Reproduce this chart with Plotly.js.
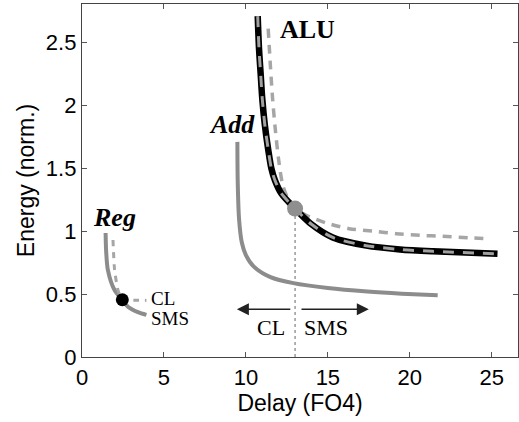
<!DOCTYPE html>
<html>
<head>
<meta charset="utf-8">
<script src="https://cdn.plot.ly/plotly-3.0.1.min.js"></script>
<style>
  html, body { margin: 0; padding: 0; background: #fff; }
  #chart { width: 519px; height: 422px; }
</style>
</head>
<body>
<div id="chart"></div>
<script>
// Energy vs. delay trade-off curves (normalized energy, delay in FO4)

// ALU: clock-limited (CL) curve
const aluClX = [10.72, 10.8, 10.9, 11.0, 11.15, 11.37, 11.55, 11.77, 12.16, 13.0, 14.0, 15.3, 17.35, 19.4, 21.4, 25.35];
const aluClY = [2.71, 2.45, 2.25, 2.05, 1.85, 1.64, 1.50, 1.405, 1.30, 1.18, 1.055, 0.95, 0.885, 0.855, 0.84, 0.82];

// ALU: SMS curve
const aluSmsX = [11.36, 11.5, 11.63, 11.8, 12.0, 12.25, 12.6, 13.0, 13.68, 14.9, 16.3, 17.75, 19.17, 20.6, 22.0, 23.85, 24.66];
const aluSmsY = [2.61, 2.3, 2.05, 1.8, 1.565, 1.365, 1.25, 1.18, 1.127, 1.065, 1.02, 1.0, 0.98, 0.967, 0.96, 0.946, 0.94];

// Adder curve
const addX = [9.48, 9.5, 9.58, 9.75, 10.0, 10.47, 11.5, 12.9, 15.0, 17.4, 19.5, 21.7];
const addY = [1.71, 1.4, 1.1, 0.91, 0.81, 0.72, 0.635, 0.587, 0.548, 0.52, 0.503, 0.49];

// Register file: solid curve and dashed curve
const regSolidX = [1.44, 1.47, 1.58, 1.99, 2.46, 2.8, 3.41, 3.93];
const regSolidY = [0.985, 0.85, 0.69, 0.53, 0.455, 0.40, 0.357, 0.335];
const regDashX = [1.89, 1.99, 2.2, 2.46, 3.2, 3.93];
const regDashY = [0.93, 0.69, 0.53, 0.455, 0.452, 0.45];

// Operating points
const regPoint = {x: [2.46], y: [0.455]};
const aluPoint = {x: [13.0], y: [1.18]};

// Boundary between CL and SMS regions for the ALU
const splitX = [13.0, 13.0];
const splitY = [0, 1.18];

// Axis ticks
const xTicks = [0, 5, 10, 15, 20, 25];
const yTicks = [0, 0.5, 1, 1.5, 2, 2.5];
const yTickText = ['0', '0.5', '1', '1.5', '2', '2.5'];

const grey = '#8c8c8c';
const lightGrey = '#a6a6a6';

const traces = [
  {x: splitX, y: splitY, mode: 'lines', line: {color: '#999', width: 1.5, dash: 'dot'}},
  {x: addX, y: addY, mode: 'lines', line: {color: grey, width: 4, shape: 'spline', smoothing: 0.8}},
  {x: regSolidX, y: regSolidY, mode: 'lines', line: {color: grey, width: 4, shape: 'spline', smoothing: 0.8}},
  {x: regDashX, y: regDashY, mode: 'lines', line: {color: lightGrey, width: 3, dash: '6px,6px', shape: 'spline', smoothing: 0.6}},
  {x: aluSmsX, y: aluSmsY, mode: 'lines', line: {color: lightGrey, width: 3.5, dash: '9px,7px', shape: 'spline', smoothing: 0.8}},
  {x: aluClX, y: aluClY, mode: 'lines', line: {color: '#000', width: 6.5, shape: 'spline', smoothing: 0.8}},
  {x: aluClX, y: aluClY, mode: 'lines', line: {color: '#a0a0a0', width: 3, dash: '11px,9px', shape: 'spline', smoothing: 0.8}},
  {x: aluPoint.x, y: aluPoint.y, mode: 'markers', marker: {color: '#8f8f8f', size: 16, line: {width: 0}}},
  {x: regPoint.x, y: regPoint.y, mode: 'markers', marker: {color: '#000', size: 13, line: {width: 0}}}
];

const serif = 'Liberation Serif, Times New Roman, serif';

const annotations = [
  {x: 2.01, y: 1.11, text: '<b><i>Reg</i></b>', showarrow: false, font: {family: serif, size: 26, color: '#000'}},
  {x: 9.17, y: 1.85, text: '<b><i>Add</i></b>', showarrow: false, font: {family: serif, size: 26, color: '#000'}},
  {x: 13.75, y: 2.60, text: '<b>ALU</b>', showarrow: false, font: {family: serif, size: 26, color: '#000'}},
  {x: 4.1, y: 0.466, text: 'CL', showarrow: false, xanchor: 'left', font: {family: serif, size: 19, color: '#000'}},
  {x: 4.1, y: 0.307, text: 'SMS', showarrow: false, xanchor: 'left', font: {family: serif, size: 19, color: '#000'}},
  {x: 11.5, y: 0.237, text: 'CL', showarrow: false, font: {family: serif, size: 22, color: '#000'}},
  {x: 14.86, y: 0.237, text: 'SMS', showarrow: false, font: {family: serif, size: 22, color: '#000'}},
  {x: 9.45, y: 0.38, ax: 12.8, ay: 0.38, xref: 'x', yref: 'y', axref: 'x', ayref: 'y',
   text: '', showarrow: true, arrowhead: 2, arrowsize: 1.6, arrowwidth: 1.5, arrowcolor: '#222'},
  {x: 17.5, y: 0.38, ax: 13.3, ay: 0.38, xref: 'x', yref: 'y', axref: 'x', ayref: 'y',
   text: '', showarrow: true, arrowhead: 2, arrowsize: 1.6, arrowwidth: 1.5, arrowcolor: '#222'}
];

const sans = 'Liberation Sans, Arial, Helvetica, sans-serif';

const layout = {
  width: 519,
  height: 422,
  margin: {l: 82, r: 1, t: 4, b: 65},
  paper_bgcolor: '#fff',
  plot_bgcolor: '#fff',
  showlegend: false,
  font: {family: sans, size: 22, color: '#000'},
  xaxis: {
    range: [0, 26.6],
    tickvals: xTicks,
    ticks: 'inside', ticklen: 5, tickcolor: '#555', mirror: 'ticks',
    showline: true, linecolor: '#444', linewidth: 1.2,
    showgrid: false, zeroline: false,
    tickfont: {family: sans, size: 22},
    title: {text: 'Delay (FO4)', font: {family: sans, size: 23}, standoff: 2}
  },
  yaxis: {
    range: [0, 2.806],
    tickvals: yTicks, ticktext: yTickText,
    ticks: 'inside', ticklen: 5, tickcolor: '#555', mirror: 'ticks',
    showline: true, linecolor: '#444', linewidth: 1.2,
    showgrid: false, zeroline: false,
    tickfont: {family: sans, size: 22},
    title: {text: 'Energy (norm.)', font: {family: sans, size: 23}, standoff: 4}
  },
  annotations: annotations
};

Plotly.newPlot('chart', traces, layout, {staticPlot: true, displayModeBar: false});
</script>
</body>
</html>
